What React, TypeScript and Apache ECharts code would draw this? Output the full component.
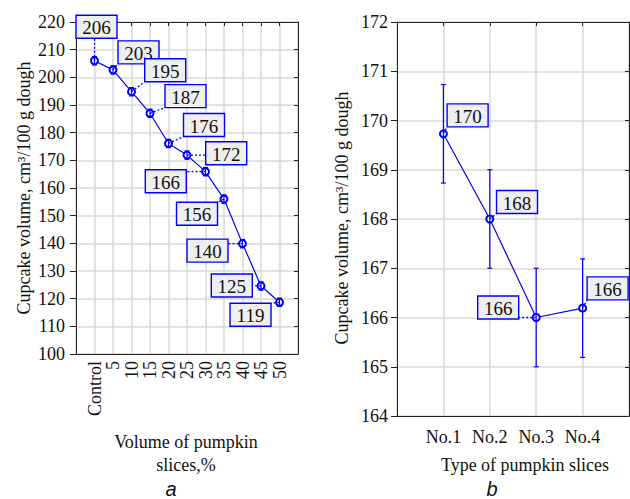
import React, { useEffect, useRef } from 'react';
import * as echarts from 'echarts';

// ---- data ----
const leftCategories = ['Control', '5', '10', '15', '20', '25', '30', '35', '40', '45', '50'];
const leftValues = [206.0, 202.7, 194.8, 187.0, 176.1, 171.9, 165.9, 156.0, 139.9, 124.6, 118.7];
const leftErrors = [1.5, 1.5, 1.5, 1.5, 1.5, 1.5, 1.5, 1.5, 1.5, 1.5, 1.5];

const rightCategories = ['No.1', 'No.2', 'No.3', 'No.4'];
const rightValues = [169.73, 168.0, 166.0, 166.19];
const rightErrors = [1.0, 1.0, 1.0, 1.0];

// label box offsets (box centre relative to point, px) – layout only
const leftLabelOffsets: number[][] = [
  [2, -34], [25.5, -17.5], [33.7, -21.5], [35.5, -17.2], [35.5, -18.4], [39.2, -1.8],
  [-39.7, 9.5], [-27, 14.7], [-35, 7], [-29.2, -0.5], [-29, 12.5],
];
const rightLabelOffsets: number[][] = [
  [24.2, -18.4], [27.2, -17], [-38, -10], [25, -19.8],
];

const SERIF = 'Liberation Serif';
const SANS = 'Liberation Sans';
const BLUE = '#0000ff';
const AXIS = '#222';
const GRIDC = '#d9d9d9';

function labelSeries(xi: number, yi: number, values: number[], offsets: number[][]) {
  return {
    type: 'custom',
    xAxisIndex: xi,
    yAxisIndex: yi,
    z: 5,
    clip: false,
    data: values.map((v, i) => [i + 1, v]),
    renderItem: (params: any, api: any) => {
      const i = params.dataIndex;
      const p = api.coord([api.value(0), api.value(1)]);
      const [dx, dy] = offsets[i];
      const w = 41, h = 23;
      const cx = p[0] + dx, cy = p[1] + dy;
      const x0 = cx - w / 2, y0 = cy - h / 2;
      const ex = Math.min(Math.max(p[0], x0), x0 + w);
      const ey = Math.min(Math.max(p[1], y0), y0 + h);
      return {
        type: 'group',
        children: [
          { type: 'line', shape: { x1: p[0], y1: p[1], x2: ex, y2: ey }, style: { stroke: BLUE, lineWidth: 1.3, lineDash: [2, 2] } },
          { type: 'rect', shape: { x: x0, y: y0, width: w, height: h }, style: { fill: '#efefef', stroke: BLUE, lineWidth: 1.4 } },
          {
            type: 'text', x: cx, y: cy + 1,
            style: { text: String(Math.round(api.value(1))), fill: '#111', fontSize: 19, fontFamily: SERIF, align: 'center', verticalAlign: 'middle' },
          },
        ],
      };
    },
  };
}

function errorSeries(xi: number, yi: number, values: number[], errs: number[]) {
  return {
    type: 'custom',
    xAxisIndex: xi,
    yAxisIndex: yi,
    z: 4,
    clip: false,
    data: values.map((v, i) => [i + 1, v - errs[i], v + errs[i]]),
    renderItem: (params: any, api: any) => {
      const lo = api.coord([api.value(0), api.value(1)]);
      const hi = api.coord([api.value(0), api.value(2)]);
      const c = 2.5;
      const st = { stroke: BLUE, lineWidth: 1.2 };
      return {
        type: 'group',
        children: [
          { type: 'line', shape: { x1: lo[0], y1: lo[1], x2: hi[0], y2: hi[1] }, style: st },
          { type: 'line', shape: { x1: lo[0] - c, y1: lo[1], x2: lo[0] + c, y2: lo[1] }, style: st },
          { type: 'line', shape: { x1: hi[0] - c, y1: hi[1], x2: hi[0] + c, y2: hi[1] }, style: st },
        ],
      };
    },
  };
}

function mainX(grid: number, max: number, cats: string[], rotate: number, margin: number) {
  return {
    type: 'value', gridIndex: grid, min: 0, max, interval: 1,
    axisLine: { show: true, onZero: false, lineStyle: { color: AXIS, width: 1 } },
    axisTick: { show: false },
    axisLabel: {
      rotate, margin, fontSize: 18, fontFamily: SERIF, color: '#111',
      formatter: (v: number) => cats[v - 1] ?? '',
      showMinLabel: false, showMaxLabel: false,
    },
    splitLine: { show: true, lineStyle: { color: GRIDC, width: 1.5 } },
  };
}
function mirrorX(grid: number, max: number) {
  return {
    type: 'value', gridIndex: grid, position: 'top', min: 0, max, interval: 1,
    axisLine: { show: true, onZero: false, lineStyle: { color: AXIS, width: 1 } },
    axisTick: { show: true, inside: true, length: 4, lineStyle: { color: AXIS } },
    axisLabel: { show: false },
    splitLine: { show: false },
  };
}
function mainY(grid: number, min: number, max: number, interval: number, margin: number) {
  return {
    type: 'value', gridIndex: grid, min, max, interval,
    axisLine: { show: true, onZero: false, lineStyle: { color: AXIS, width: 1 } },
    axisTick: { show: true, length: 6, lineStyle: { color: AXIS } },
    axisLabel: { margin, fontSize: 18, fontFamily: SERIF, color: '#111' },
    splitLine: { show: true, lineStyle: { color: GRIDC, width: 1.5 } },
  };
}
function mirrorY(grid: number, min: number, max: number, interval: number) {
  return {
    type: 'value', gridIndex: grid, position: 'right', min, max, interval,
    axisLine: { show: true, onZero: false, lineStyle: { color: AXIS, width: 1 } },
    axisTick: { show: true, inside: true, length: 4, lineStyle: { color: AXIS } },
    axisLabel: { show: false },
    splitLine: { show: false },
  };
}

export default function App() {
  const ref = useRef<HTMLDivElement>(null);
  useEffect(() => {
    if (!ref.current) return;
    const chart = echarts.init(ref.current, undefined, { renderer: 'svg' });
    const option: any = {
      animation: false,
      backgroundColor: '#ffffff',
      textStyle: { fontFamily: SERIF },
      grid: [
        { left: 76, top: 22, width: 222, height: 332 },
        { left: 397, top: 22, width: 232, height: 394 },
      ],
      xAxis: [
        mainX(0, 12, leftCategories, 90, 7),
        mirrorX(0, 12),
        mainX(1, 5, rightCategories, 0, 12),
        mirrorX(1, 5),
      ],
      yAxis: [
        mainY(0, 100, 220, 10, 11),
        mirrorY(0, 100, 220, 10),
        mainY(1, 164, 172, 1, 9),
        mirrorY(1, 164, 172, 1),
      ],
      series: [
        {
          type: 'line', xAxisIndex: 0, yAxisIndex: 0, z: 3,
          data: leftValues.map((v, i) => [i + 1, v]),
          symbol: 'emptyCircle', symbolSize: 7,
          itemStyle: { color: BLUE, borderWidth: 1.2 },
          lineStyle: { color: BLUE, width: 1.2 },
        },
        errorSeries(0, 0, leftValues, leftErrors),
        labelSeries(0, 0, leftValues, leftLabelOffsets),
        {
          type: 'line', xAxisIndex: 2, yAxisIndex: 2, z: 3,
          data: rightValues.map((v, i) => [i + 1, v]),
          symbol: 'emptyCircle', symbolSize: 7,
          itemStyle: { color: BLUE, borderWidth: 1.2 },
          lineStyle: { color: BLUE, width: 1.2 },
        },
        errorSeries(2, 2, rightValues, rightErrors),
        labelSeries(2, 2, rightValues, rightLabelOffsets),
      ],
      graphic: [
        {
          type: 'text', x: 24, y: 188, rotation: Math.PI / 2,
          style: { text: 'Cupcake volume, cm³/100 g dough', fontSize: 18, fontFamily: SERIF, fill: '#111', align: 'center', verticalAlign: 'middle' },
        },
        {
          type: 'text', x: 342, y: 218, rotation: Math.PI / 2,
          style: { text: 'Cupcake volume, cm³/100 g dough', fontSize: 18, fontFamily: SERIF, fill: '#111', align: 'center', verticalAlign: 'middle' },
        },
        {
          type: 'text', x: 186, y: 453,
          style: { text: 'Volume of pumpkin\nslices,%', fontSize: 18, lineHeight: 23, fontFamily: SERIF, fill: '#111', align: 'center', verticalAlign: 'middle' },
        },
        {
          type: 'text', x: 525, y: 465,
          style: { text: 'Type of pumpkin slices', fontSize: 18, fontFamily: SERIF, fill: '#111', align: 'center', verticalAlign: 'middle' },
        },
        {
          type: 'text', x: 171, y: 489,
          style: { text: 'a', fontSize: 20, fontStyle: 'italic', fontFamily: SANS, fill: '#111', align: 'center', verticalAlign: 'middle' },
        },
        {
          type: 'text', x: 492, y: 489,
          style: { text: 'b', fontSize: 20, fontStyle: 'italic', fontFamily: SANS, fill: '#111', align: 'center', verticalAlign: 'middle' },
        },
      ],
    };
    chart.setOption(option);
    return () => chart.dispose();
  }, []);
  return <div ref={ref} style={{ position: 'absolute', left: 0, top: 0, width: 630, height: 499 }} />;
}
